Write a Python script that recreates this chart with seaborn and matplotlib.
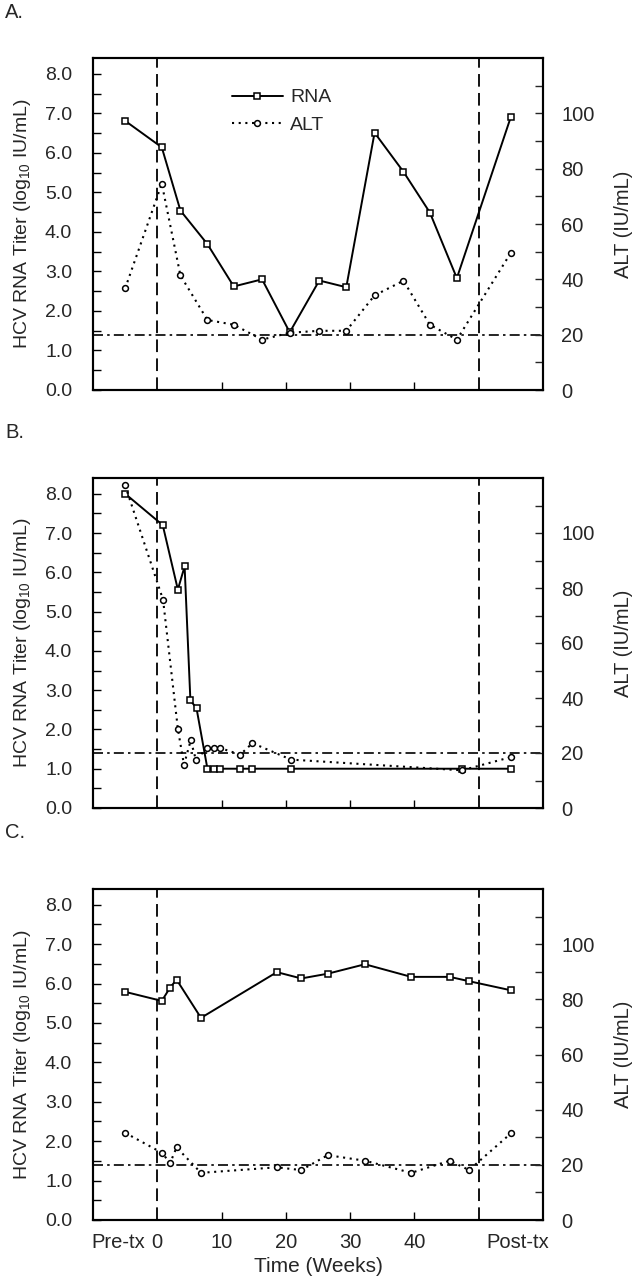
import matplotlib
matplotlib.use("Agg")
import matplotlib.pyplot as plt
import seaborn as sns
import numpy as np

# Panel A
a_rna_wk = [-5, 0.7, 3.6, 7.8, 11.9, 16.3, 20.6, 25.2, 29.4, 33.8, 38.3, 42.4, 46.6, 55]
a_rna = [6.81, 6.14, 4.54, 3.69, 2.62, 2.80, 1.46, 2.77, 2.60, 6.51, 5.52, 4.49, 2.83, 6.91]
a_alt_wk = [-5, 0.7, 3.6, 7.8, 11.9, 16.3, 20.6, 25.2, 29.4, 33.8, 38.3, 42.4, 46.6, 55]
a_alt = [36.7, 74.6, 41.4, 25.3, 23.6, 18.2, 20.7, 21.4, 21.4, 34.2, 39.5, 23.6, 18.2, 49.6]

# Panel B
b_rna_wk = [-5, 0.85, 3.2, 4.25, 5.15, 6.1, 7.8, 8.8, 9.8, 12.9, 14.8, 20.8, 47.4, 55]
b_rna = [8.0, 7.2, 5.56, 6.15, 2.74, 2.54, 1.0, 1.0, 1.0, 1.0, 1.0, 1.0, 1.0, 1.0]
b_alt_wk = [-5, 0.9, 3.2, 4.15, 5.2, 6.0, 7.8, 8.8, 9.8, 12.9, 14.8, 20.8, 47.4, 55]
b_alt = [117.3, 75.7, 28.8, 15.7, 24.6, 17.6, 21.8, 21.8, 21.8, 19.4, 23.6, 17.6, 13.7, 18.5]

# Panel C
c_rna_wk = [-5, 0.7, 2.0, 3.0, 6.8, 18.6, 22.4, 26.5, 32.3, 39.5, 45.5, 48.5, 55]
c_rna = [5.79, 5.56, 5.90, 6.10, 5.13, 6.29, 6.13, 6.25, 6.49, 6.17, 6.17, 6.06, 5.83]
c_alt_wk = [-5, 0.7, 2.0, 3.0, 6.8, 18.6, 22.4, 26.5, 32.3, 39.5, 45.5, 48.5, 55]
c_alt = [31.6, 24.4, 20.7, 26.3, 17.1, 19.1, 18.1, 23.5, 21.5, 17.1, 21.5, 18.1, 31.4]

panels = [
    ("A.", a_rna_wk, a_rna, a_alt_wk, a_alt),
    ("B.", b_rna_wk, b_rna, b_alt_wk, b_alt),
    ("C.", c_rna_wk, c_rna, c_alt_wk, c_alt),
]

x_ticks = [-6, 0, 10, 20, 30, 40, 56]
x_labels = ["Pre-tx", "0", "10", "20", "30", "40", "Post-tx"]
detect_limit = 1.4

sns.set_style("ticks")
plt.rcParams["font.family"] = ["Liberation Sans", "DejaVu Sans"]
plt.rcParams["mathtext.fontset"] = "custom"
plt.rcParams["mathtext.rm"] = "Liberation Sans"
plt.rcParams["mathtext.it"] = "Liberation Sans"

fig = plt.figure(figsize=(6.36, 12.8), dpi=100)
boxes = [(58, 390), (478, 808), (889, 1220)]
letter_y = [12, 432, 833]

for i, (letter, rx, ry, ax_, ay) in enumerate(panels):
    top, bot = boxes[i]
    ax = fig.add_axes([93 / 636, 1 - bot / 1280, 450 / 636, (bot - top) / 1280])
    ax2 = ax.twinx()

    sns.lineplot(x=rx, y=ry, ax=ax, color="black", linewidth=1.4, marker="s",
                 markersize=5, markerfacecolor="white", markeredgecolor="black",
                 markeredgewidth=1.1, estimator=None, sort=False, label="RNA", legend=False)
    sns.lineplot(x=ax_, y=ay, ax=ax2, color="black", linewidth=1.5,
                 linestyle=(0, (1, 2.2)), marker="o", markersize=4.2,
                 markerfacecolor="white", markeredgecolor="black", markeredgewidth=1.1,
                 estimator=None, sort=False, label="ALT", legend=False)

    ax.axvline(0, color="black", linestyle=(0, (7, 3.5)), linewidth=1.3)
    ax.axvline(50, color="black", linestyle=(0, (7, 3.5)), linewidth=1.3)
    ax.axhline(detect_limit, color="black", linestyle=(0, (6, 2.5, 1.5, 2.5)), linewidth=1.2)

    ax.set_xlim(-10, 60)
    ax.set_ylim(0, 8.4)
    ax2.set_ylim(0, 120)
    ax.set_yticks(np.arange(0, 8.5, 1.0))
    ax.set_yticklabels([f"{v:.1f}" for v in np.arange(0, 8.5, 1.0)])
    ax.set_yticks(np.arange(0.5, 8.5, 1.0), minor=True)
    ax2.set_yticks(np.arange(0, 101, 20))
    ax2.set_yticks(np.arange(10, 120, 20), minor=True)

    ax.set_xticks(x_ticks)
    if i == 2:
        ax.set_xticklabels(x_labels)
        ax.set_xlabel("Time (Weeks)", fontsize=15)
        ax.xaxis.set_label_coords(0.5, -0.112)
    else:
        ax.set_xticklabels([])
    for t in ax.xaxis.get_major_ticks():
        if t.get_loc() in (-6, 0, 56):
            t.tick1line.set_visible(False)
            t.tick2line.set_visible(False)

    ax.tick_params(axis="both", which="both", direction="in", labelsize=14,
                   width=1.0, color="black")
    ax.tick_params(axis="y", which="major", length=6, pad=15)
    ax.tick_params(axis="y", which="minor", length=6)
    ax.tick_params(axis="x", which="major", length=6, pad=9, top=False, labelsize=14.5)
    ax2.tick_params(axis="y", which="both", direction="in", length=6, width=1.0,
                    labelsize=14.5, pad=13)

    ax.set_ylabel(r"HCV RNA Titer (log$_{10}$ IU/mL)", fontsize=14)
    ax.yaxis.set_label_coords(-0.133, 0.5)
    ax2.set_ylabel("ALT (IU/mL)", fontsize=14.5)
    ax2.yaxis.set_label_coords(1.158, 0.5)

    for a in (ax, ax2):
        for s in a.spines.values():
            s.set_linewidth(1.5)
            s.set_color("black")

    if i == 0:
        h1, l1 = ax.get_legend_handles_labels()
        h2, l2 = ax2.get_legend_handles_labels()
        ax2.legend(h1 + h2, l1 + l2, loc="upper left", bbox_to_anchor=(0.27, 0.96),
                   frameon=False, fontsize=14, handlelength=2.6, handletextpad=0.4,
                   labelspacing=0.5)

    fig.text(5 / 636, 1 - letter_y[i] / 1280, letter, fontsize=14.5, va="center", ha="left")

fig.savefig("out.png", dpi=100, facecolor="white")
